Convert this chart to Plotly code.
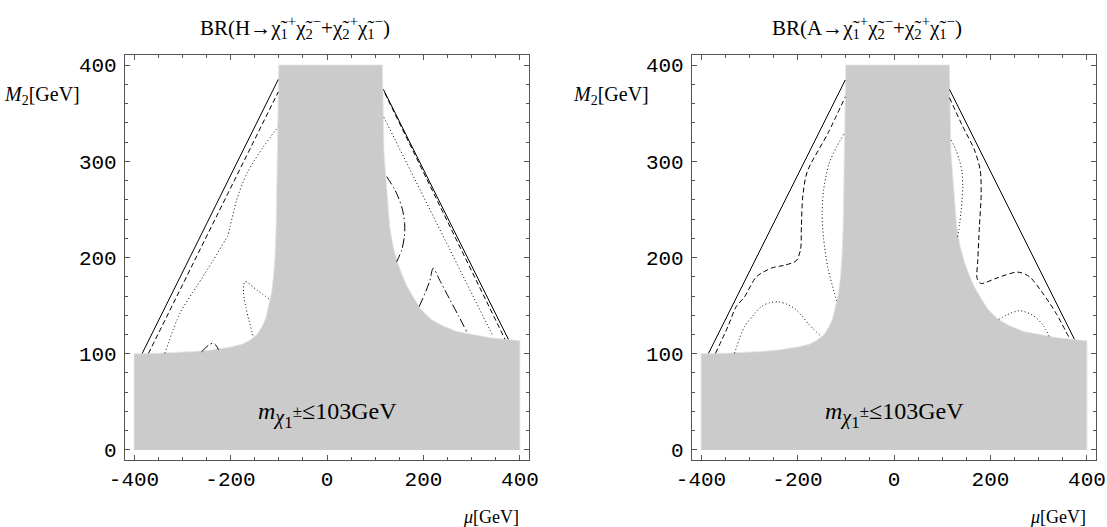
import plotly.graph_objects as go

# ---- excluded region m_chi1 <= 103 GeV (same boundary in both panels) ----
gray_left_x = [-400, -350, -300, -270, -240, -200, -175, -160, -145, -135, -127, -121, -115, -111, -108, -105.5, -103, -101, -100]
gray_left_y = [100, 100.6, 101.5, 102.5, 104, 107, 110, 114, 120, 128, 137, 149, 163, 180, 200, 232, 300, 350, 400]
gray_right_x = [115, 116, 118, 121, 125, 130, 137, 145, 155, 166, 180, 195, 215, 240, 270, 300, 340, 400]
gray_right_y = [400, 350, 310, 290, 260, 232, 212, 197, 183, 170, 158, 146, 136, 129, 123, 120, 116.5, 113.5]

# ---- BR(H -> chi1+ chi2- + chi2+ chi1-) contours ----
H_solid_left_x, H_solid_left_y = [-383, -101], [100.4, 385]
H_solid_right_x, H_solid_right_y = [116.8, 376], [374.7, 115]
H_dash_left_x, H_dash_left_y = [-370, -101], [100.4, 372]
H_dash_right_x, H_dash_right_y = [120, 369], [370.6, 115]
H_dot_left_x = [-336, -305, -270, -236, -211, -206, -201, -187, -166, -132, -101]
H_dot_left_y = [100.4, 142, 170, 197, 218, 222, 232, 260, 287.5, 315, 336]
H_dot_right_x, H_dot_right_y = [118, 344.7], [345.6, 117.7]
H_dot_loop_x = [-120, -145, -170, -173, -168, -162, -153]
H_dot_loop_y = [157, 166, 175, 163, 148, 135, 118]
H_dd_small_x = [-260, -245, -236, -229, -225]
H_dd_small_y = [102, 109, 111, 108, 104]
H_dd_upper_x = [123.7, 141, 154.8, 161, 160.3, 154.8, 144.5]
H_dd_upper_y = [284, 270, 252.8, 235.5, 221.6, 207.8, 195.6]
H_dd_lower_x = [191, 205, 213.5, 220, 235, 255, 272, 289.5]
H_dd_lower_y = [149, 165, 176.6, 188.8, 175, 156, 140, 123]

# ---- BR(A -> chi1+ chi2- + chi2+ chi1-) contours ----
A_solid_left_x, A_solid_left_y = [-384.5, -101], [100.4, 384.4]
A_solid_right_x, A_solid_right_y = [115, 374], [374.7, 115]
A_dash_left_x = [-370, -344.5, -327, -310, -285, -254, -237, -227, -203, -193.8, -192, -189, -180, -137, -101]
A_dash_left_y = [100.4, 128, 149, 159, 180, 189, 191, 192, 196.5, 208, 232, 264, 289, 329, 367]
A_dash_right_x = [115, 142.6, 166.8, 178.6, 180.7, 177, 173.7, 172.4, 180.7, 211.8, 256.6, 280.8, 308.4, 336, 363.7]
A_dash_right_y = [366, 336, 311.7, 291, 266.7, 232, 197.4, 178, 173, 178.4, 184.8, 180, 162.8, 142, 116]
A_dot_lu_x = [-104, -120, -135, -146, -149, -146, -137, -124, -118]
A_dot_lu_y = [328, 314, 297, 270, 245, 220, 189, 164, 153]
A_dot_ll_x = [-330.6, -310, -290, -275, -258, -241, -222, -206, -190, -178.6, -154.4]
A_dot_ll_y = [100.4, 128, 141, 149, 153, 154, 151.5, 147, 139, 131.6, 119.5]
A_dot_ru_x = [118.5, 128, 135.8, 141, 142.6, 141, 139.3, 136, 132]
A_dot_ru_y = [322, 312, 301, 288, 273.6, 260, 249, 235, 221.6]
A_dot_rl_x = [217, 232.5, 260, 287.7, 308.4, 322]
A_dot_rl_y = [135.7, 140, 144.7, 140, 130, 117.7]

x_ticks = [-400, -200, 0, 200, 400]
y_ticks = [0, 100, 200, 300, 400]

DASH = "5px,3px"
DOT = "1px,2.5px"
DASHDOT = "9px,3px,1.5px,3px"

W, H = 1107, 527
fig = go.Figure()


def add_gray(xa, ya):
    px = [-400] + gray_left_x + gray_right_x + [400]
    py = [0] + gray_left_y + gray_right_y + [0]
    fig.add_trace(go.Scatter(x=px, y=py, mode="lines", fill="toself",
                             fillcolor="#cbcbcb", line=dict(width=0.8, color="#e6e6e6"),
                             xaxis=xa, yaxis=ya, hoverinfo="skip", showlegend=False))


def add_line(xs, ys, dash, xa, ya, spline=True):
    fig.add_trace(go.Scatter(x=xs, y=ys, mode="lines",
                             line=dict(color="black", width=1, dash=dash,
                                       shape="spline" if spline else "linear",
                                       smoothing=0.8),
                             xaxis=xa, yaxis=ya, hoverinfo="skip", showlegend=False))


# left panel: H
add_gray("x", "y")
add_line(H_solid_left_x, H_solid_left_y, "solid", "x", "y")
add_line(H_solid_right_x, H_solid_right_y, "solid", "x", "y")
add_line(H_dash_left_x, H_dash_left_y, DASH, "x", "y")
add_line(H_dash_right_x, H_dash_right_y, DASH, "x", "y")
add_line(H_dot_left_x, H_dot_left_y, DOT, "x", "y")
add_line(H_dot_right_x, H_dot_right_y, DOT, "x", "y")
add_line(H_dot_loop_x, H_dot_loop_y, DOT, "x", "y")
add_line(H_dd_small_x, H_dd_small_y, DASHDOT, "x", "y")
add_line(H_dd_upper_x, H_dd_upper_y, DASHDOT, "x", "y")
add_line(H_dd_lower_x, H_dd_lower_y, DASHDOT, "x", "y")

# right panel: A
add_gray("x2", "y2")
add_line(A_solid_left_x, A_solid_left_y, "solid", "x2", "y2")
add_line(A_solid_right_x, A_solid_right_y, "solid", "x2", "y2")
add_line(A_dash_left_x, A_dash_left_y, DASH, "x2", "y2")
add_line(A_dash_right_x, A_dash_right_y, DASH, "x2", "y2")
add_line(A_dot_lu_x, A_dot_lu_y, DOT, "x2", "y2")
add_line(A_dot_ll_x, A_dot_ll_y, DOT, "x2", "y2")
add_line(A_dot_ru_x, A_dot_ru_y, DOT, "x2", "y2")
add_line(A_dot_rl_x, A_dot_rl_y, DOT, "x2", "y2")

FRAME = "#555555"
TICKFONT = dict(family="Liberation Mono", size=21, color="black")


def xaxis_cfg(dom, anchor):
    return dict(domain=dom, anchor=anchor, range=[-418.7, 418.7], tickvals=x_ticks,
                ticktext=[str(v) for v in x_ticks], automargin=False,
                showline=True, linecolor=FRAME, linewidth=1.2, mirror="ticks",
                ticks="inside", ticklen=5, tickcolor=FRAME, tickwidth=1,
                minor=dict(dtick=50, tick0=0, ticks="inside", ticklen=3, tickcolor=FRAME),
                showgrid=False, zeroline=False, tickfont=TICKFONT, fixedrange=True)


def yaxis_cfg(anchor):
    return dict(domain=[(H - 460) / H, (H - 55) / H], range=[-10.4, 410.4],
                tickvals=y_ticks, ticktext=[str(v) for v in y_ticks], anchor=anchor,
                automargin=False, ticklabelstandoff=3,
                showline=True, linecolor=FRAME, linewidth=1.2, mirror="ticks",
                ticks="inside", ticklen=5, tickcolor=FRAME, tickwidth=1,
                minor=dict(dtick=20, tick0=0, ticks="inside", ticklen=3, tickcolor=FRAME),
                showgrid=False, zeroline=False, tickfont=TICKFONT, fixedrange=True)


SERIF = "Liberation Serif"
title_tail = ("→χ̃<sub>1</sub><sup>+</sup>χ̃<sub>2</sub><sup>−</sup>"
              "+χ̃<sub>2</sub><sup>+</sup>χ̃<sub>1</sub><sup>−</sup>)")

annotations = []


def text(x, y, s, size=18, xanchor="center", yanchor="middle", xref="paper", yref="paper"):
    annotations.append(dict(x=x, y=y, xref=xref, yref=yref, text=s, showarrow=False,
                            xanchor=xanchor, yanchor=yanchor, align=xanchor if xanchor != "center" else "center",
                            font=dict(family=SERIF, size=size, color="black")))


# panel titles
text(295 / W, 1 - 27 / H, "BR(H" + title_tail, size=21)
text(867 / W, 1 - 27 / H, "BR(A" + title_tail, size=21)
# axis labels
text(2 / W, 1 - 95 / H, "<i>M</i><sub>2</sub>[GeV]", size=20, xanchor="left")
text(571 / W, 1 - 95 / H, "<i>M</i><sub>2</sub>[GeV]", size=20, xanchor="left")
text(521 / W, 1 - 517 / H, "<i>μ</i>[GeV]", size=18, xanchor="right")
text(1088 / W, 1 - 517 / H, "<i>μ</i>[GeV]", size=18, xanchor="right")
# excluded-region label
region_label = ("<i>m</i><sub><span style='font-size:20px;font-style:italic'>χ</span>"
                "<sub><span style='font-size:17px'>1</span></sub>"
                "<sup><span style='font-size:17px'>±</span></sup></sub>≤103GeV")
text(0, 36, region_label, size=24, xref="x", yref="y")
text(0, 36, region_label, size=24, xref="x2", yref="y2")

fig.update_layout(
    width=W, height=H, margin=dict(l=0, r=0, t=0, b=0, autoexpand=False),
    paper_bgcolor="white", plot_bgcolor="white", showlegend=False,
    xaxis=xaxis_cfg([125 / W, 529 / W], "y"),
    yaxis=yaxis_cfg("x"),
    xaxis2=xaxis_cfg([692 / W, 1096 / W], "y2"),
    yaxis2=yaxis_cfg("x2"),
    annotations=annotations,
)

fig.write_html("out.html", config={"displayModeBar": False})
